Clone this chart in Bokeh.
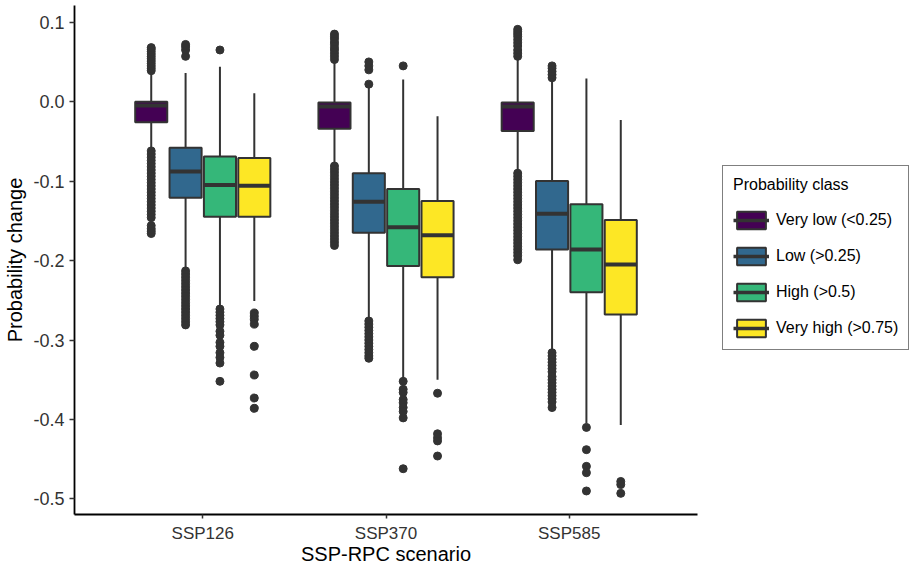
from bokeh.plotting import figure
from bokeh.layouts import row
from bokeh.models import (ColumnDataSource, FactorRange, Range1d, FixedTicker,
                          NumeralTickFormatter, Legend, LegendItem)
from bokeh.transform import dodge
from bokeh.embed import file_html
from bokeh.resources import INLINE

# ---------------- data ----------------
scenarios = ["SSP126", "SSP370", "SSP585"]
classes = ["Very low (<0.25)", "Low (>0.25)", "High (>0.5)", "Very high (>0.75)"]
colors = ["#440154", "#31688E", "#35B779", "#FDE725"]

# one row per class, one value per scenario
lower_whisker = [[-0.059, -0.078, -0.087],
                 [-0.210, -0.274, -0.314],
                 [-0.257, -0.350, -0.405],
                 [-0.251, -0.350, -0.407]]
q1 = [[-0.026, -0.034, -0.037],
      [-0.121, -0.165, -0.186],
      [-0.145, -0.207, -0.240],
      [-0.145, -0.221, -0.268]]
median = [[-0.005, -0.006, -0.006],
          [-0.088, -0.126, -0.141],
          [-0.105, -0.158, -0.186],
          [-0.106, -0.168, -0.205]]
q3 = [[0.000, -0.001, -0.001],
      [-0.058, -0.090, -0.100],
      [-0.069, -0.110, -0.129],
      [-0.071, -0.125, -0.149]]
upper_whisker = [[0.037, 0.050, 0.054],
                 [0.036, 0.019, 0.026],
                 [0.044, 0.028, 0.029],
                 [0.0105, -0.0185, -0.023]]

outliers = [
    # Very low
    [[0.039, 0.042, 0.045, 0.048, 0.051, 0.054, 0.057, 0.060, 0.063, 0.066, 0.068,
      -0.062, -0.066, -0.070, -0.074, -0.078, -0.082, -0.086, -0.090, -0.094, -0.098,
      -0.102, -0.106, -0.110, -0.114, -0.118, -0.122, -0.126, -0.130, -0.134, -0.138,
      -0.142, -0.146, -0.156, -0.160, -0.163, -0.166],
     [0.053, 0.057, 0.061, 0.065, 0.068, 0.072, 0.075, 0.079, 0.082, 0.085,
      -0.081, -0.085, -0.089, -0.093, -0.097, -0.101, -0.105, -0.109, -0.113, -0.117,
      -0.121, -0.125, -0.129, -0.133, -0.137, -0.141, -0.145, -0.149, -0.153, -0.157,
      -0.161, -0.165, -0.169, -0.173, -0.177, -0.181],
     [0.057, 0.061, 0.065, 0.070, 0.074, 0.078, 0.082, 0.085, 0.088, 0.091,
      -0.090, -0.094, -0.098, -0.102, -0.106, -0.110, -0.114, -0.118, -0.122, -0.126,
      -0.130, -0.134, -0.138, -0.142, -0.146, -0.150, -0.154, -0.158, -0.162, -0.166,
      -0.170, -0.174, -0.178, -0.182, -0.186, -0.190, -0.194, -0.199]],
    # Low
    [[0.057, 0.065, 0.069, 0.072,
      -0.213, -0.217, -0.221, -0.225, -0.229, -0.233, -0.237, -0.241, -0.245, -0.249,
      -0.253, -0.257, -0.261, -0.265, -0.269, -0.273, -0.277, -0.281],
     [0.022, 0.040, 0.045, 0.050,
      -0.276, -0.280, -0.284, -0.288, -0.292, -0.296, -0.300, -0.304, -0.308, -0.312,
      -0.316, -0.320, -0.323],
     [0.030, 0.034, 0.038, 0.042, 0.045,
      -0.316, -0.320, -0.324, -0.328, -0.332, -0.336, -0.340, -0.346, -0.350, -0.354,
      -0.358, -0.362, -0.366, -0.370, -0.374, -0.378, -0.385]],
    # High
    [[0.065, -0.261, -0.265, -0.269, -0.273, -0.277, -0.281, -0.289, -0.294, -0.303,
      -0.308, -0.316, -0.322, -0.329, -0.352],
     [0.045, -0.352, -0.362, -0.366, -0.375, -0.379, -0.385, -0.390, -0.398, -0.462],
     [-0.410, -0.438, -0.459, -0.467, -0.490]],
    # Very high
    [[-0.266, -0.270, -0.274, -0.280, -0.308, -0.344, -0.373, -0.386],
     [-0.367, -0.418, -0.423, -0.427, -0.446],
     [-0.478, -0.482, -0.493]],
]

y_ticks = [-0.5, -0.4, -0.3, -0.2, -0.1, 0.0, 0.1]

# ---------------- main figure ----------------
FONT = "Liberation Sans"
INK = "#333333"
NAN = float("nan")

p = figure(width=710, height=567, output_backend="svg", toolbar_location=None,
           x_range=FactorRange(*scenarios, range_padding=0.2, range_padding_units="absolute"),
           y_range=Range1d(-0.5196, 0.121),
           min_border_left=74, min_border_right=13, min_border_top=5, min_border_bottom=52)
p.outline_line_color = None
p.xgrid.visible = False
p.ygrid.visible = False

# legend panel (separate figure to the right of the plot)
lf = figure(width=200, height=567, output_backend="svg", toolbar_location=None,
            x_range=Range1d(0, 1), y_range=Range1d(0, 1),
            x_axis_type=None, y_axis_type=None, min_border=0)
lf.outline_line_color = None
lf.xgrid.visible = False
lf.ygrid.visible = False

dodge_step = 0.1875
box_w = 0.175
items = []
for k, cls in enumerate(classes):
    off = (k - 1.5) * dodge_step
    src = ColumnDataSource(dict(scenario=scenarios, lo=lower_whisker[k], q1=q1[k],
                                med=median[k], q3=q3[k], hi=upper_whisker[k]))
    ox, oy = [], []
    for s, vals in zip(scenarios, outliers[k]):
        ox += [s] * len(vals)
        oy += vals
    osrc = ColumnDataSource(dict(scenario=ox, y=oy))

    xc = dodge("scenario", off, range=p.x_range)
    p.segment(x0=xc, x1=xc, y0="lo", y1="hi", source=src, line_color=INK, line_width=2)
    p.scatter(x=xc, y="y", source=osrc, size=8, fill_color=INK, line_color=INK, line_width=1)
    p.vbar(x=xc, width=box_w, bottom="q1", top="q3", source=src,
           fill_color=colors[k], line_color=INK, line_width=2)
    p.segment(x0=dodge("scenario", off - box_w / 2, range=p.x_range),
              x1=dodge("scenario", off + box_w / 2, range=p.x_range),
              y0="med", y1="med", source=src, line_color=INK, line_width=4)

    # legend key renderers: same styling, a single undrawn (NaN) placeholder row
    key_src = ColumnDataSource(dict(x=[NAN], y0=[NAN], y1=[NAN]))
    kbox = lf.vbar(x="x", width=0.1, bottom="y0", top="y1", source=key_src,
                   fill_color=colors[k], line_color=INK, line_width=2)
    kmed = lf.segment(x0="x", x1="x", y0="y0", y1="y1", source=key_src,
                      line_color=INK, line_width=3.5)
    items.append(LegendItem(label=cls, renderers=[kbox, kmed]))

# axes
for ax in (p.xaxis, p.yaxis):
    ax.axis_line_color = "black"
    ax.axis_line_width = 1.8
    ax.major_tick_line_color = INK
    ax.major_tick_line_width = 1.5
    ax.major_tick_out = 5
    ax.major_tick_in = 0
    ax.minor_tick_line_color = None
    ax.major_label_text_font = FONT
    ax.major_label_text_color = INK
    ax.axis_label_text_font = FONT
    ax.axis_label_text_font_size = "20px"
    ax.axis_label_text_font_style = "normal"
    ax.axis_label_text_color = "black"

p.yaxis.major_label_text_font_size = "18px"
p.xaxis.major_label_text_font_size = "17px"
p.xaxis.major_tick_out = 4
p.yaxis.ticker = FixedTicker(ticks=y_ticks)
p.yaxis.formatter = NumeralTickFormatter(format="0.0")
p.yaxis.axis_label = "Probability change"
p.yaxis.major_label_standoff = 5
p.yaxis.axis_label_standoff = 4
p.xaxis.axis_label = "SSP-RPC scenario"
p.xaxis.major_label_standoff = 5
p.xaxis.axis_label_standoff = -3

legend = Legend(items=items, location=(12, 164), title="Probability class")
legend.title_text_font = FONT
legend.title_text_font_size = "16px"
legend.title_text_font_style = "normal"
legend.title_text_color = "black"
legend.title_standoff = 15
legend.label_text_font = FONT
legend.label_text_font_size = "16px"
legend.label_text_color = "black"
legend.padding = 10
legend.margin = 0
legend.spacing = 14
legend.glyph_width = 36
legend.glyph_height = 22
legend.label_standoff = 7
legend.border_line_color = "black"
legend.border_line_width = 1.5
legend.background_fill_color = "white"
legend.background_fill_alpha = 1
lf.add_layout(legend)

layout = row(p, lf)
open("out.html", "w").write(file_html(layout, INLINE))
